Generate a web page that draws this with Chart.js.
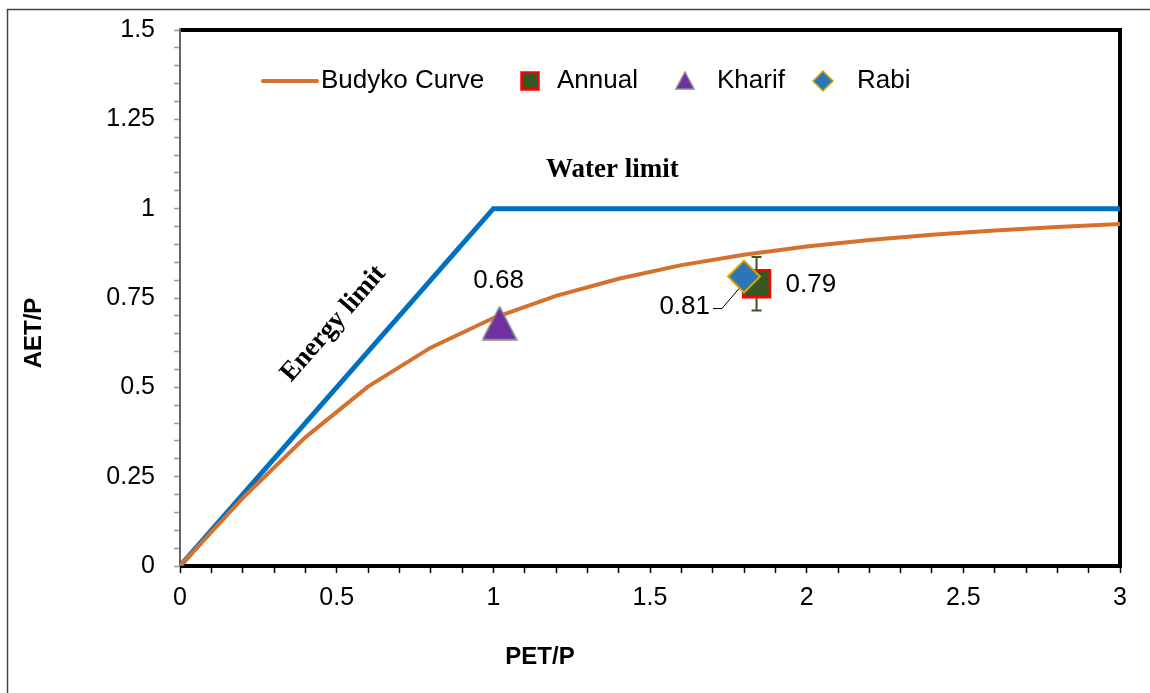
<!DOCTYPE html>
<html>
<head>
<meta charset="utf-8">
<script src="https://cdn.jsdelivr.net/npm/chart.js@4.4.0/dist/chart.umd.min.js"></script>
<style>
  html, body { margin: 0; padding: 0; background: #fff; }
  #wrap { width: 1150px; height: 693px; }
</style>
</head>
<body>
<div id="wrap"><canvas id="myChart" width="1150" height="693"></canvas></div>
<script>
// Budyko curve, every 0.2 of PET/P
var budykoX = [0, 0.2, 0.4, 0.6, 0.8, 1.0, 1.2, 1.4, 1.6, 1.8, 2.0, 2.2, 2.4, 2.6, 2.8, 3.0];
var budykoY = [0, 0.19, 0.36, 0.502, 0.611, 0.694, 0.756, 0.804, 0.842, 0.871, 0.894, 0.912, 0.927, 0.939, 0.949, 0.957];

// energy limit / water limit
var limitX = [0, 1, 3];
var limitY = [0, 1, 1];

// seasons
var annualX = [1.84];
var annualY = [0.79];
var annualErr = [0.075];
var kharifX = [1.02];
var kharifY = [0.68];
var rabiX = [1.80];
var rabiY = [0.81];

var xMajor = [0, 0.5, 1, 1.5, 2, 2.5, 3];
var xLabels = ["0", "0.5", "1", "1.5", "2", "2.5", "3"];
var yMajor = [0, 0.25, 0.5, 0.75, 1, 1.25, 1.5];
var yLabels = ["0", "0.25", "0.5", "0.75", "1", "1.25", "1.5"];

var legendNames = ["Budyko Curve", "Annual", "Kharif", "Rabi"];

var FONT = "'Liberation Sans', Arial, sans-serif";
var SERIF = "'Liberation Serif', 'Times New Roman', serif";

function pts(xs, ys) {
  return xs.map(function (x, i) { return { x: x, y: ys[i] }; });
}

function tickLabel(value, major, labels) {
  for (var i = 0; i < major.length; i++) {
    if (Math.abs(value - major[i]) < 1e-6) return labels[i];
  }
  return "";
}

// triangle marker centred on its box, like the spreadsheet one
function triangleMarker(w, h, fill, stroke) {
  var cv = document.createElement("canvas");
  cv.width = w + 2;
  cv.height = h + 2;
  var t = cv.getContext("2d");
  t.beginPath();
  t.moveTo(cv.width / 2, 1);
  t.lineTo(cv.width - 1, cv.height - 1);
  t.lineTo(1, cv.height - 1);
  t.closePath();
  t.fillStyle = fill;
  t.fill();
  t.strokeStyle = stroke;
  t.lineWidth = 1.5;
  t.stroke();
  return cv;
}

var decor = {
  id: "decor",
  beforeDraw: function (chart) {
    var c = chart.ctx;
    c.save();
    c.fillStyle = "#fff";
    c.fillRect(0, 0, chart.width, chart.height);
    // outer frame (only top and left show)
    c.strokeStyle = "#444";
    c.lineWidth = 1.5;
    c.beginPath();
    c.moveTo(7.5, chart.height);
    c.lineTo(7.5, 9.5);
    c.lineTo(chart.width, 9.5);
    c.stroke();
    c.restore();
  },
  beforeDatasetsDraw: function (chart) {
    var c = chart.ctx, a = chart.chartArea;
    var xs = chart.scales.x, ys = chart.scales.y;
    c.save();
    // plot frame
    c.strokeStyle = "#000";
    c.lineWidth = 4;
    c.beginPath();
    c.moveTo(a.left, a.top);
    c.lineTo(a.right, a.top);
    c.lineTo(a.right, a.bottom);
    c.lineTo(a.left, a.bottom);
    c.stroke();
    c.strokeStyle = "#666";
    c.lineWidth = 2;
    c.beginPath();
    c.moveTo(a.left, a.top - 2);
    c.lineTo(a.left, a.bottom);
    c.stroke();

    // error bar on annual point
    c.strokeStyle = "#375623";
    c.lineWidth = 2;
    for (var i = 0; i < annualX.length; i++) {
      var px = xs.getPixelForValue(annualX[i]);
      var top = ys.getPixelForValue(annualY[i] + annualErr[i]);
      var bot = ys.getPixelForValue(annualY[i] - annualErr[i]);
      c.beginPath();
      c.moveTo(px, top); c.lineTo(px, bot);
      c.moveTo(px - 5, top); c.lineTo(px + 5, top);
      c.moveTo(px - 5, bot); c.lineTo(px + 5, bot);
      c.stroke();
    }
    c.restore();
  },
  afterDatasetsDraw: function (chart) {
    var c = chart.ctx, a = chart.chartArea;
    var xs = chart.scales.x, ys = chart.scales.y;
    var drawPoint = Chart.helpers.drawPoint;
    c.save();

    // legend inside the plot
    var ly = a.top + 51;
    c.font = "26px " + FONT;
    c.fillStyle = "#000";
    c.textBaseline = "middle";
    c.textAlign = "left";
    c.strokeStyle = "#D5712C";
    c.lineWidth = 4;
    c.lineCap = "round";
    c.beginPath();
    c.moveTo(a.left + 83, ly); c.lineTo(a.left + 137, ly);
    c.stroke();
    c.lineCap = "butt";
    c.fillText(legendNames[0], a.left + 141, ly);

    c.fillStyle = "#375623"; c.strokeStyle = "#FF0000"; c.lineWidth = 2.5;
    drawPoint(c, { pointStyle: "rect", radius: 12, borderWidth: 2.5 }, a.left + 350, ly);
    c.fillStyle = "#000";
    c.fillText(legendNames[1], a.left + 377, ly);

    c.drawImage(triangleMarker(18, 17, "#7030A0", "#8C8C8C"), a.left + 495, ly - 10);
    c.fillStyle = "#000";
    c.fillText(legendNames[2], a.left + 537, ly);

    c.fillStyle = "#2E75B6"; c.strokeStyle = "#D9A800"; c.lineWidth = 1.5;
    drawPoint(c, { pointStyle: "rectRot", radius: 10, borderWidth: 1.5 }, a.left + 643, ly);
    c.fillStyle = "#000";
    c.fillText(legendNames[3], a.left + 677, ly);

    // value labels
    c.font = "26px " + FONT;
    var kx = xs.getPixelForValue(kharifX[0]), ky = ys.getPixelForValue(kharifY[0]);
    c.textAlign = "center";
    c.fillText(kharifY[0].toFixed(2), kx - 1, ky - 42);

    var nx = xs.getPixelForValue(annualX[0]), ny = ys.getPixelForValue(annualY[0]);
    c.textAlign = "left";
    c.fillText(annualY[0].toFixed(2), nx + 29, ny + 1);

    var rx = xs.getPixelForValue(rabiX[0]), ry = ys.getPixelForValue(rabiY[0]);
    c.textAlign = "right";
    c.fillText(rabiY[0].toFixed(2), rx - 34, ry + 30);
    c.strokeStyle = "#000";
    c.lineWidth = 1;
    c.beginPath();
    c.moveTo(rx - 31, ry + 32);
    c.lineTo(rx - 22, ry + 32);
    c.lineTo(rx - 5, ry + 12);
    c.stroke();

    // limit annotations
    c.font = "bold 27px " + SERIF;
    c.textAlign = "center";
    c.fillText("Water limit", xs.getPixelForValue(1.38), ys.getPixelForValue(1.108));

    var ang = Math.atan2(ys.getPixelForValue(1) - ys.getPixelForValue(0),
                         xs.getPixelForValue(1) - xs.getPixelForValue(0));
    c.translate(xs.getPixelForValue(0.49), ys.getPixelForValue(0.678));
    c.rotate(ang);
    c.fillText("Energy limit", 0, 0);
    c.restore();

    // axis titles
    c.save();
    c.font = "bold 24px " + FONT;
    c.fillStyle = "#000";
    c.textAlign = "center";
    c.textBaseline = "middle";
    c.fillText("PET/P", 540, 657);
    c.translate(34, 333);
    c.rotate(-Math.PI / 2);
    c.fillText("AET/P", 0, 0);
    c.restore();
  }
};

var ctx = document.getElementById("myChart").getContext("2d");
var myChart = new Chart(ctx, {
  type: "scatter",
  data: {
    datasets: [
      {
        label: "Rabi",
        data: pts(rabiX, rabiY),
        pointStyle: "rectRot",
        pointRadius: 16,
        backgroundColor: "#2E75B6",
        borderColor: "#D9A800",
        borderWidth: 2,
        order: 1
      },
      {
        label: "Kharif",
        data: pts(kharifX, kharifY),
        pointStyle: triangleMarker(34, 33, "#7030A0", "#8C8C8C"),
        pointRadius: 17,
        backgroundColor: "#7030A0",
        borderColor: "#8C8C8C",
        order: 2
      },
      {
        label: "Annual",
        data: pts(annualX, annualY),
        pointStyle: "rect",
        pointRadius: 19,
        backgroundColor: "#375623",
        borderColor: "#FF0000",
        borderWidth: 2.5,
        order: 3
      },
      {
        label: "Budyko Curve",
        data: pts(budykoX, budykoY),
        showLine: true,
        pointRadius: 0,
        borderColor: "#D5712C",
        borderWidth: 4,
        order: 4
      },
      {
        label: "Limits",
        data: pts(limitX, limitY),
        showLine: true,
        pointRadius: 0,
        borderColor: "#0070C0",
        borderWidth: 5,
        order: 5
      }
    ]
  },
  options: {
    responsive: false,
    animation: false,
    events: [],
    layout: { padding: { top: 30, right: 30, left: 0, bottom: 0 } },
    plugins: { legend: { display: false }, tooltip: { enabled: false } },
    scales: {
      x: {
        type: "linear",
        min: 0, max: 3,
        afterFit: function (s) { s.height = 127; s.paddingLeft = 0; s.paddingRight = 0; },
        border: { display: false },
        grid: { drawOnChartArea: false, drawTicks: true, tickLength: 7, tickColor: "#000", tickWidth: 1.5 },
        ticks: {
          stepSize: 0.1, autoSkip: false, maxTicksLimit: 100, maxRotation: 0,
          padding: 10, color: "#000", font: { family: FONT, size: 25 },
          callback: function (v) { return tickLabel(v, xMajor, xLabels); }
        }
      },
      y: {
        type: "linear",
        min: 0, max: 1.5,
        afterFit: function (s) { s.width = 180; s.paddingTop = 0; s.paddingBottom = 0; },
        border: { display: false },
        grid: { drawOnChartArea: false, drawTicks: true, tickLength: 6, tickColor: "#999", tickWidth: 1.5 },
        ticks: {
          stepSize: 0.05, autoSkip: false, maxTicksLimit: 100,
          padding: 19, color: "#000", font: { family: FONT, size: 25 },
          callback: function (v) { return tickLabel(v, yMajor, yLabels); }
        }
      }
    }
  },
  plugins: [decor]
});
</script>
</body>
</html>
